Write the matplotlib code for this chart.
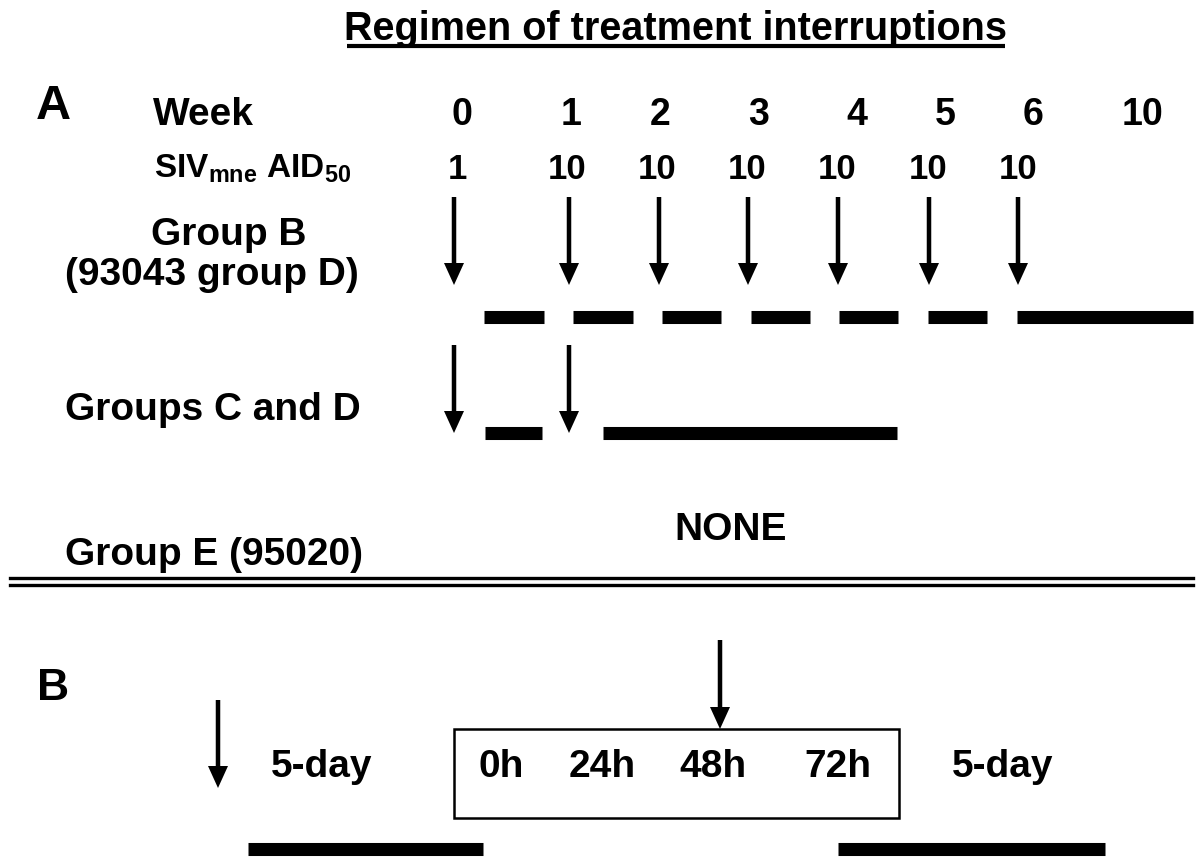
import matplotlib
matplotlib.use("Agg")
import matplotlib.pyplot as plt
from matplotlib.patches import Rectangle

plt.rcParams['font.family'] = ['Liberation Sans', 'DejaVu Sans']
plt.rcParams['font.weight'] = 'bold'
plt.rcParams['mathtext.fontset'] = 'custom'
plt.rcParams['mathtext.rm'] = 'Liberation Sans:bold'
plt.rcParams['mathtext.it'] = 'Liberation Sans:bold'
plt.rcParams['mathtext.bf'] = 'Liberation Sans:bold'

# ---- data ----
title = "Regimen of treatment interruptions"
week_labels = ["0", "1", "2", "3", "4", "5", "6", "10"]
doses = ["1", "10", "10", "10", "10", "10", "10"]          # SIVmne AID50 per challenge
group_b_challenges = [0, 1, 2, 3, 4, 5, 6]                 # challenge index
group_b_treatment = [0, 1, 2, 3, 4, 5, 6]                  # treatment segment index
group_cd_challenges = [0, 1]
hours = ["0h", "24h", "48h", "72h"]
row_labels = ["Group B", "(93043 group D)", "Groups C and D", "Group E (95020)"]

# ---- layout (pixel canvas) ----
W, H = 1197, 857
fig = plt.figure(figsize=(W / 100, H / 100), dpi=100)
ax = fig.add_axes([0, 0, 1, 1])
ax.set_xlim(0, W)
ax.set_ylim(H, 0)
ax.axis('off')

week_x = [462, 571, 660, 759, 857, 945, 1033, 1143]
dose_x = [457, 567, 657, 747, 837, 928, 1018]
arrow_x = [454, 569, 659, 748, 838, 929, 1018]
seg_start = [484, 573, 662, 751, 839, 928, 1017]
seg_end = [544, 633, 721, 810, 898, 987, 1193]

fs_lab = 28
fs_week = 27
fs_dose = 25
bar_lw = 9.4

def arrow(x, y0, y1):
    ax.arrow(x, y0, 0, y1 - y0, width=4.5, head_width=20, head_length=22,
             length_includes_head=True, fc='black', ec='none')

def bar(x0, x1, y, lw=bar_lw):
    ax.plot([x0, x1], [y, y], color='black', lw=lw, solid_capstyle='butt')

# Title
ax.text(676, 29, title, ha='center', va='center', fontsize=28.5)
ax.plot([347, 1005], [46, 46], color='black', lw=3, solid_capstyle='butt')

# Panel A
ax.text(53, 106, "A", ha='center', va='center', fontsize=35)
ax.text(153, 115, "Week", ha='left', va='center', fontsize=fs_lab)
for x, lab in zip(week_x, week_labels):
    ax.text(x, 115, lab, ha='center', va='center', fontsize=fs_week)
ax.text(154, 169, r"SIV$_{\mathrm{mne}}$ AID$_{\mathrm{50}}$", ha='left', va='center', fontsize=24)
for x, d in zip(dose_x, doses):
    ax.text(x, 169, d, ha='center', va='center', fontsize=fs_dose)

ax.text(229, 235, row_labels[0], ha='center', va='center', fontsize=fs_lab)
ax.text(212, 275, row_labels[1], ha='center', va='center', fontsize=fs_lab)
for i in group_b_challenges:
    arrow(arrow_x[i], 197, 285)
for i in group_b_treatment:
    bar(seg_start[i], seg_end[i], 316.5)

ax.text(65, 410, row_labels[2], ha='left', va='center', fontsize=fs_lab)
for i in group_cd_challenges:
    arrow(arrow_x[i], 345, 433)
bar(485, 542, 433)
bar(603, 897, 433)

ax.text(731, 530, "NONE", ha='center', va='center', fontsize=fs_lab)
ax.text(65, 555, row_labels[3], ha='left', va='center', fontsize=fs_lab)

ax.plot([10, 1193], [577.5, 577.5], color='black', lw=2.4)
ax.plot([10, 1193], [584.5, 584.5], color='black', lw=2.4)

# Panel B
ax.text(53, 688, "B", ha='center', va='center', fontsize=32)
arrow(218, 700, 788)
ax.text(322, 767, "5-day", ha='center', va='center', fontsize=fs_lab)
ax.add_patch(Rectangle((454, 729), 445, 89, fill=False, lw=1.8, edgecolor='black'))
arrow(720, 640, 729)
for x, h in zip([501, 602, 713, 838], hours):
    ax.text(x, 767, h, ha='center', va='center', fontsize=fs_lab)
ax.text(1003, 767, "5-day", ha='center', va='center', fontsize=fs_lab)
bar(248, 483, 849)
bar(838, 1105, 849)

fig.savefig("out.png", dpi=100)
